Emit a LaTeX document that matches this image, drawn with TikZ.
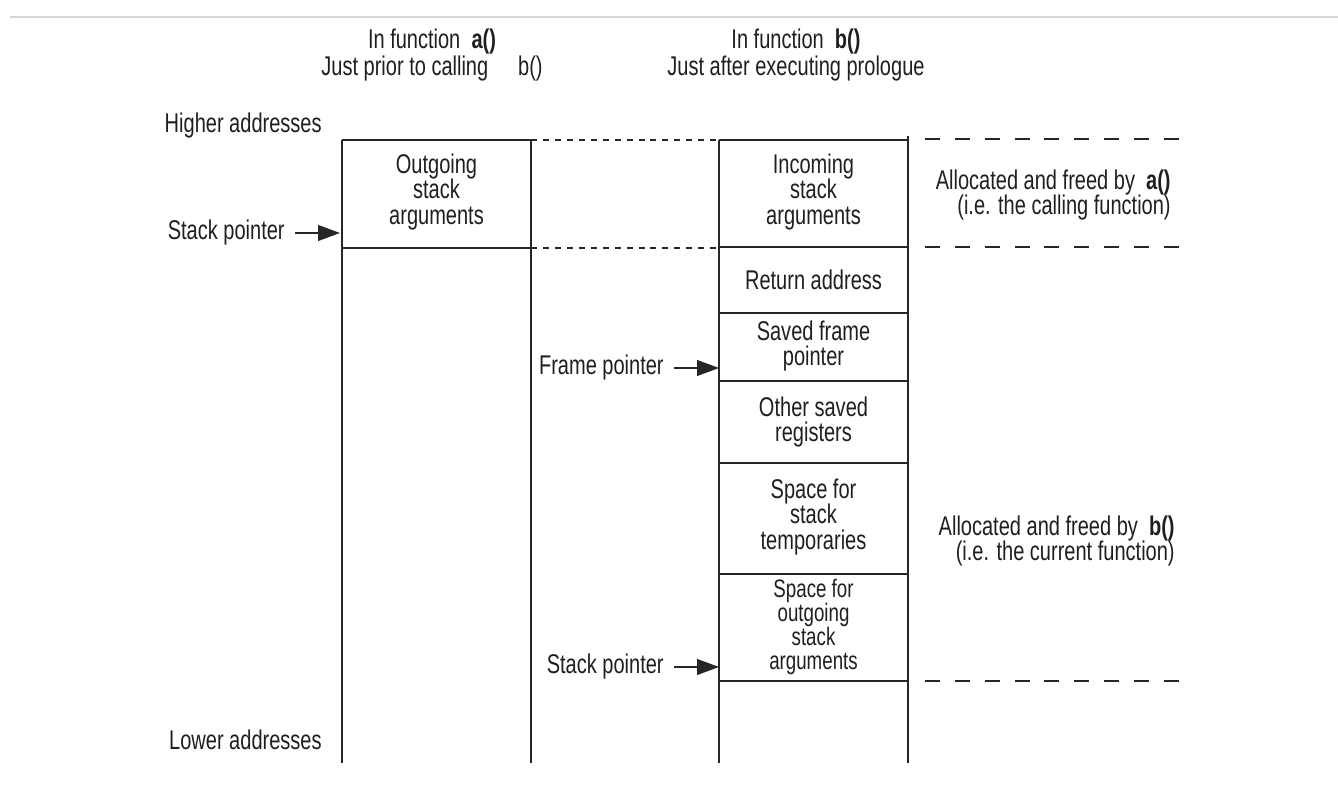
\documentclass[tikz,border=0pt]{standalone}
\usepackage{fontspec}
\setmainfont{Liberation Sans}[FakeStretch=0.74]
\usetikzlibrary{positioning,arrows.meta}

\begin{document}
\begin{tikzpicture}[x=0.02cm,y=-0.02cm]
      \tikzset{wall/.style={line width=0.9pt, black!85},
               finedash/.style={line width=0.8pt, black!85, dash pattern=on 3.4pt off 3.4pt},
               longdash/.style={line width=0.8pt, black!85, dash pattern=on 8.5pt off 8.5pt},
               txt/.style={inner sep=0pt, text=black!88, font=\fontsize{15.4}{14.4}\selectfont},
               cell/.style={txt, align=center},
               title/.style={txt, align=center, font=\fontsize{15.4}{12.5}\selectfont},
               lbl/.style={txt, inner xsep=0.2cm},
               pointer/.style={line width=0.9pt, black!85, -{Triangle[length=12.5pt,width=9pt]}}}
      \useasboundingbox (0,0) rectangle (1338,786);
      \draw[line width=1.6pt, black!16] (10,17) -- (1338,17);
%% Titles
	\node[title] (ta) at (432,55) {In function\ \ \textbf{a()}\\Just prior to calling\hspace{17pt}b()};
	\node[title] (tb) at (796,55) {In function\ \ \textbf{b()}\\Just after executing prologue};
%% Stack walls
	%a() column
	\draw[wall] (342,140) -- (342,763);
	\draw[wall] (531,140) -- (531,763);
	\draw[wall] (342,140) -- (531,140);
	\draw[wall] (342,248) -- (531,248);
	%b() column
	\draw[wall] (719,140) -- (719,763);
	\draw[wall] (908,136) -- (908,763);
	\draw[wall] (719,140) -- (908,140);
	\draw[wall] (719,247) -- (908,247);
	\draw[wall] (719,313) -- (908,313);
	\draw[wall] (719,381) -- (908,381);
	\draw[wall] (719,463) -- (908,463);
	\draw[wall] (719,574) -- (908,574);
	\draw[wall] (719,681) -- (908,681);
	%dashed guides
	\draw[finedash] (531,140) -- (719,140);
	\draw[finedash] (531,248) -- (719,248);
	\draw[longdash] (925,139) -- (1180,139);
	\draw[longdash] (925,247) -- (1180,247);
	\draw[longdash] (925,681) -- (1180,681);
%% Cells
	\node[cell] (outargs) at (436.5,192) {Outgoing\\stack\\arguments};
	\node[cell] (inargs) at (813.5,192) {Incoming\\stack\\arguments};
	\node[cell] (retaddr) at (813.5,280) {Return address};
	\node[cell] (savedfp) at (813.5,346) {Saved frame\\pointer};
	\node[cell] (savedregs) at (813.5,422) {Other saved\\registers};
	\node[cell] (temps) at (813.5,517) {Space for\\stack\\temporaries};
	\node[cell, font=\fontsize{14.4}{13.6}\selectfont] (outspace) at (813.5,627) {Space for\\outgoing\\stack\\arguments};
%% Side notes
	\node[txt, anchor=base east] (high) at (322,133) {Higher addresses};
	\node[txt, anchor=base east] (low) at (322,749) {Lower addresses};
	\node[cell, align=right, anchor=east] (bya) at (1171,195) {Allocated and freed by\ \ \textbf{a()}\\(i.e. the calling function)};
	\node[cell, align=right, anchor=east] (byb) at (1175,541) {Allocated and freed by\ \ \textbf{b()}\\(i.e. the current function)};
%% Pointers
	\coordinate (sptipa) at (340,233);
	\coordinate (fptip) at (719,368);
	\coordinate (sptipb) at (719,667);
	\node[lbl, left=0.9cm of sptipa] (spa) {Stack pointer};
	\node[lbl, left=0.9cm of fptip] (fp) {Frame pointer};
	\node[lbl, left=0.9cm of sptipb] (spb) {Stack pointer};
	\draw[pointer] (spa) -- (sptipa);
	\draw[pointer] (fp) -- (fptip);
	\draw[pointer] (spb) -- (sptipb);

\end{tikzpicture}
\end{document}
